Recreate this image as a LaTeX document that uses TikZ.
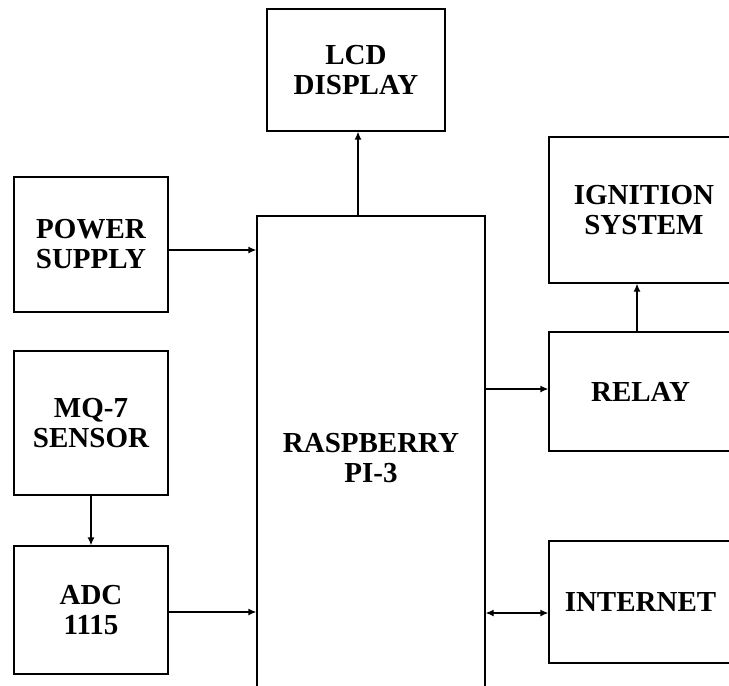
\documentclass[tikz,border=0pt]{standalone}
\usepackage{fontspec}
\setmainfont{Liberation Serif}
\usetikzlibrary{arrows.meta, positioning}

\begin{document}
\begin{tikzpicture}[
    x=1pt, y=-1pt,
    line width=1.3pt,
    block node/.style={draw, rectangle, align=center, inner sep=0pt,
        font=\fontsize{29}{30}\selectfont\bfseries},
    arrow/.style={-{Latex[length=8pt,width=7pt]}}
]
    \useasboundingbox (0,0) rectangle (729,686);

    % Nodes
    \node[block node, minimum width=178, minimum height=122] (lcd) at (356,70) {LCD\\DISPLAY};
    \node[block node, minimum width=154, minimum height=135] (power) at (91,244.5) {POWER\\SUPPLY};
    \node[block node, minimum width=154, minimum height=144] (mq7) at (91,423) {MQ-7\\SENSOR};
    \node[block node, minimum width=154, minimum height=128] (adc) at (91,610) {ADC\\1115};
    \node[block node, minimum width=228, minimum height=484] (rpi) at (371,458) {RASPBERRY\\PI-3};
    \node[block node, minimum width=190, minimum height=146] (ignition) at (644,210) {IGNITION\\SYSTEM};
    \node[block node, minimum width=183, minimum height=119] (relay) at (640.5,391.5) {RELAY};
    \node[block node, minimum width=183, minimum height=122] (internet) at (640.5,602) {INTERNET};

    % Edges
    \draw[arrow] ([xshift=2pt]lcd.south |- rpi.north) -- ([xshift=2pt]lcd.south);
    \draw[arrow] ([yshift=-5.5pt]power.east) -- ([yshift=-5.5pt]power.east -| rpi.west);
    \draw[arrow] (mq7) -- (adc);
    \draw[arrow] ([yshift=-2pt]adc.east) -- ([yshift=-2pt]adc.east -| rpi.west);
    \draw[arrow] ([yshift=2.5pt]relay.west -| rpi.east) -- ([yshift=2.5pt]relay.west);
    \draw[arrow] ([xshift=-3.5pt]relay.north) -- ([xshift=-3.5pt]relay.north |- ignition.south);
    \draw[{Latex[length=8pt,width=7pt]}-{Latex[length=8pt,width=7pt]}] ([yshift=-11pt]internet.west -| rpi.east) -- ([yshift=-11pt]internet.west);
\end{tikzpicture}
\end{document}
